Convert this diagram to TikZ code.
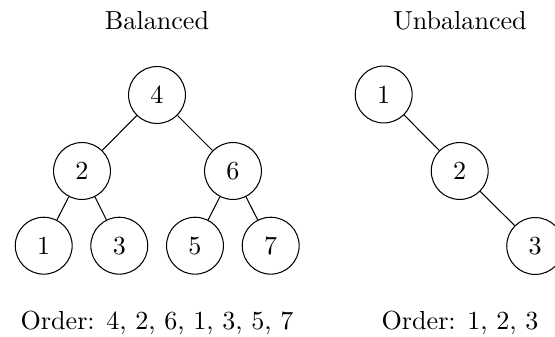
\documentclass[tikz,border=0pt]{standalone}
\begin{document}
\begin{tikzpicture}[x=0.3831pt,y=-0.3831pt,
  treenode/.style={circle,draw,line width=0.4pt,minimum size=21.8pt,inner sep=0pt},
  edge/.style={draw,line width=0.4pt},
  caption/.style={anchor=base,inner sep=0pt}]
\useasboundingbox (0,0) rectangle (555,337);
% titles
\node[caption] (tb) at (157,29.3) {Balanced};
\node[caption] (tu) at (460,29.3) {Unbalanced};
% balanced tree
\node[treenode] (b4) at (157,95) {4};
\node[treenode] (b2) at (82,171) {2};
\node[treenode] (b6) at (233,171) {6};
\node[treenode] (b1) at (43.7,245.7) {1};
\node[treenode] (b3) at (119.3,245.7) {3};
\node[treenode] (b5) at (195,245.7) {5};
\node[treenode] (b7) at (270.7,245.7) {7};
\path[edge] (b4) -- (b2);
\path[edge] (b4) -- (b6);
\path[edge] (b2) -- (b1);
\path[edge] (b2) -- (b3);
\path[edge] (b6) -- (b5);
\path[edge] (b6) -- (b7);
% unbalanced tree
\node[treenode] (u1) at (383.7,94.5) {1};
\node[treenode] (u2) at (459.7,171) {2};
\node[treenode] (u3) at (535.2,246) {3};
\path[edge] (u1) -- (u2);
\path[edge] (u2) -- (u3);
% orders
\node[caption] (ob) at (157,329.5) {Order: 4, 2, 6, 1, 3, 5, 7};
\node[caption] (ou) at (460,329.5) {Order: 1, 2, 3};
\end{tikzpicture}
\end{document}
